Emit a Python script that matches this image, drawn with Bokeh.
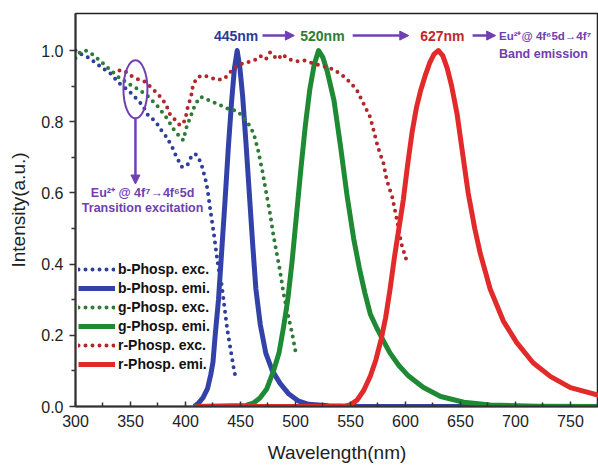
from bokeh.plotting import figure
from bokeh.models import Label, Arrow, NormalHead, Range1d, FixedTicker, Legend, LegendItem, PrintfTickFormatter
from bokeh.embed import file_html
from bokeh.resources import INLINE

# ---- data ----
b_exc_x = [300, 305, 312, 318, 325, 332, 339, 348, 355, 361, 366, 373, 377, 383, 388, 392, 397, 402, 405, 409,
           414, 418, 420, 423, 426, 429, 431, 433, 435, 438, 441, 444, 445]
b_exc_y = [1.0, 0.99, 0.98, 0.966, 0.95, 0.935, 0.91, 0.888, 0.866, 0.846, 0.818, 0.80, 0.78, 0.756, 0.728, 0.70,
           0.672, 0.68, 0.70, 0.71, 0.686, 0.64, 0.61, 0.543, 0.48, 0.41, 0.37, 0.34, 0.29, 0.216, 0.16, 0.105, 0.09]

g_exc_x = [300, 304, 309, 315, 323, 330, 339, 348, 356, 365, 374, 383, 389, 395, 398, 401, 405, 409, 414, 420,
           429, 438, 447, 452, 458, 462, 466, 470, 474, 477, 480, 483, 486, 489, 493, 497, 500]
g_exc_y = [0.978, 0.995, 1.0, 0.99, 0.97, 0.95, 0.925, 0.907, 0.893, 0.874, 0.846, 0.81, 0.78, 0.757, 0.748, 0.785,
           0.818, 0.85, 0.87, 0.862, 0.85, 0.837, 0.83, 0.815, 0.79, 0.767, 0.72, 0.66, 0.59, 0.54, 0.48, 0.43,
           0.38, 0.32, 0.26, 0.205, 0.155]

r_exc_x = [340, 344, 350, 356, 362, 370, 376, 382, 386, 391, 395, 398, 400, 402, 405, 407, 411, 416, 422, 428,
           435, 441, 446, 450, 455, 459, 464, 468, 473, 477, 480, 484, 488, 492, 497, 502, 508, 514, 523, 532,
           541, 550, 556, 562, 568, 571, 575, 580, 583, 588, 591, 594, 596, 598, 600, 602]
r_exc_y = [0.944, 0.944, 0.93, 0.92, 0.915, 0.893, 0.874, 0.85, 0.82, 0.804, 0.79, 0.795, 0.81, 0.84, 0.87, 0.905,
           0.925, 0.93, 0.925, 0.918, 0.92, 0.94, 0.955, 0.962, 0.965, 0.97, 0.975, 0.985, 0.975, 0.995, 0.985,
           0.975, 0.99, 0.98, 0.972, 0.97, 0.972, 0.966, 0.958, 0.95, 0.935, 0.91, 0.888, 0.85, 0.812, 0.776,
           0.728, 0.683, 0.636, 0.588, 0.543, 0.496, 0.46, 0.44, 0.42, 0.40]

b_emi_x = [408, 412, 416, 420, 423, 425, 427, 430, 433, 436, 439, 442, 444.5, 447, 449.5, 452, 455, 458, 461, 464,
           468, 473, 479, 486, 494, 503, 512, 530, 560, 800]
b_emi_y = [0.0, 0.01, 0.025, 0.05, 0.09, 0.125, 0.2, 0.3, 0.44, 0.58, 0.73, 0.86, 0.95, 1.0, 0.95, 0.87, 0.74, 0.6,
           0.46, 0.33, 0.23, 0.15, 0.1, 0.065, 0.035, 0.015, 0.006, 0.002, 0.0, 0.0]

g_emi_x = [408, 455, 462, 468, 474, 480, 485, 489, 493, 497, 501, 505, 509, 513, 517, 521, 525, 529, 535, 541,
           547, 553, 558, 563, 568, 574, 579, 586, 594, 602, 616, 632, 653, 677, 720, 800]
g_emi_y = [0.0, 0.003, 0.01, 0.025, 0.05, 0.1, 0.15, 0.22, 0.3, 0.41, 0.54, 0.67, 0.79, 0.89, 0.96, 1.0, 0.98, 0.94,
           0.86, 0.73, 0.59, 0.47, 0.39, 0.32, 0.26, 0.22, 0.19, 0.15, 0.115, 0.088, 0.054, 0.028, 0.012, 0.004,
           0.001, 0.0]

r_emi_x = [410, 545, 550, 556, 562, 568, 573, 578, 582, 586, 590, 594, 598, 602, 606, 610, 614, 618, 622, 626, 630,
           634, 638, 642, 647, 652, 657, 663, 668, 677, 689, 701, 716, 732, 750, 775, 800]
r_emi_y = [0.0, 0.0, 0.005, 0.018, 0.045, 0.085, 0.13, 0.19, 0.25, 0.33, 0.42, 0.5, 0.58, 0.68, 0.77, 0.84, 0.89,
           0.93, 0.965, 0.99, 1.0, 0.985, 0.95, 0.9, 0.82, 0.71, 0.6, 0.5, 0.43, 0.33, 0.24, 0.18, 0.123, 0.084,
           0.053, 0.032, 0.02]

series_labels = ["b-Phosp. exc.", "b-Phosp. emi.", "g-Phosp. exc.", "g-Phosp. emi.", "r-Phosp. exc.", "r-Phosp. emi."]
x_ticks = [300, 350, 400, 450, 500, 550, 600, 650, 700, 750]
y_ticks = [0.0, 0.2, 0.4, 0.6, 0.8, 1.0]

# ---- styling ----
FONT = "Liberation Sans"
PURPLE = "#7040b0"
C_BEXC, C_BEMI = "#2f3d9c", "#3342a8"
C_GEXC, C_GEMI = "#2e7b37", "#1f8a34"
C_REXC, C_REMI = "#b3272b", "#e32a2a"

p = figure(width=598, height=465, output_backend="svg", toolbar_location=None,
           x_range=Range1d(300, 775.5), y_range=Range1d(0, 1.104),
           min_border_left=75, min_border_right=0, min_border_top=13, min_border_bottom=58)
p.grid.visible = False
p.background_fill_color = "white"
p.outline_line_color = "#222222"
p.outline_line_width = 1.5

DOT = "0 7"
r1 = p.line(b_exc_x, b_exc_y, line_color=C_BEXC, line_width=4, line_dash=DOT, line_cap="round")
r2 = p.line(b_emi_x, b_emi_y, line_color=C_BEMI, line_width=5, line_join="round")
r3 = p.line(g_exc_x, g_exc_y, line_color=C_GEXC, line_width=4, line_dash=DOT, line_cap="round")
r4 = p.line(g_emi_x, g_emi_y, line_color=C_GEMI, line_width=5, line_join="round")
r5 = p.line(r_exc_x, r_exc_y, line_color=C_REXC, line_width=4, line_dash=DOT, line_cap="round")
r6 = p.line(r_emi_x, r_emi_y, line_color=C_REMI, line_width=5, line_join="round")

legend = Legend(items=[LegendItem(label=l, renderers=[r]) for l, r in zip(series_labels, [r1, r2, r3, r4, r5, r6])],
                location=(3, 34), glyph_width=37, glyph_height=8, label_text_font=FONT,
                label_text_font_size="14px", label_text_font_style="bold", label_text_color="#111111",
                label_standoff=3, spacing=2, padding=0, margin=0, label_height=17,
                background_fill_alpha=0, border_line_alpha=0)
p.add_layout(legend, "center")

# axes
xa, ya = p.xaxis[0], p.yaxis[0]
xa.ticker = FixedTicker(ticks=x_ticks, minor_ticks=[325 + 50 * i for i in range(10)])
ya.ticker = FixedTicker(ticks=y_ticks, minor_ticks=[0.1, 0.3, 0.5, 0.7, 0.9])
ya.formatter = PrintfTickFormatter(format="%.1f")
for ax in (xa, ya):
    ax.axis_line_color = "#333333"
    ax.axis_line_width = 2
    ax.major_tick_line_color = "#333333"
    ax.minor_tick_line_color = "#333333"
    ax.major_tick_line_width = 1.5
    ax.minor_tick_line_width = 1.5
    ax.major_label_text_font = FONT
    ax.major_label_text_font_size = "16px"
    ax.major_label_text_color = "#222222"
    ax.axis_label_text_font = FONT
    ax.axis_label_text_font_size = "19px"
    ax.axis_label_text_font_style = "normal"
    ax.axis_label_text_color = "#222222"
xa.major_tick_in, xa.major_tick_out = 5, 0
xa.minor_tick_in, xa.minor_tick_out = 4, 0
ya.major_tick_in, ya.major_tick_out = 0, 6
ya.minor_tick_in, ya.minor_tick_out = 0, 4
xa.axis_label = "Wavelength(nm)"
ya.axis_label = "Intensity(a.u.)"
xa.major_label_standoff = 8
xa.axis_label_standoff = 12
ya.major_label_standoff = 6
ya.axis_label_standoff = 9

# ---- annotations ----
def lab(x, y, text, color, size, align="center"):
    p.add_layout(Label(x=x, y=y, text=text, text_color=color, text_font=FONT, text_font_size=size,
                       text_font_style="bold", text_align=align, text_baseline="middle"))

def arr(x0, y0, x1, y1):
    p.add_layout(Arrow(end=NormalHead(size=9, fill_color=PURPLE, line_color=PURPLE),
                       x_start=x0, y_start=y0, x_end=x1, y_end=y1, line_color=PURPLE, line_width=2.5))

top_y = 1.042
lab(446, top_y, "445nm", "#2c3a9c", "14px")
lab(524.5, top_y, "520nm", "#2e7d32", "14px")
lab(633.5, top_y, "627nm", "#c0282c", "14px")
arr(470, top_y, 499, top_y)
arr(552, top_y, 603, top_y)
arr(661, top_y, 682, top_y)
lab(685, top_y, "Eu²⁺@ 4f⁶5d→4f⁷", PURPLE, "11.5px", "left")
lab(685, 0.99, "Band emission", PURPLE, "12.5px", "left")

p.ellipse(x=[354.5], y=[0.891], width=24, height=58, width_units="screen", height_units="screen",
          fill_alpha=0, line_color=PURPLE, line_width=2)
arr(354.5, 0.81, 354.5, 0.625)
lab(361, 0.6, "Eu²⁺ @ 4f⁷→4f⁶5d", PURPLE, "12.5px")
lab(361, 0.557, "Transition excitation", PURPLE, "12.5px")

open("out.html", "w").write(file_html(p, INLINE))
